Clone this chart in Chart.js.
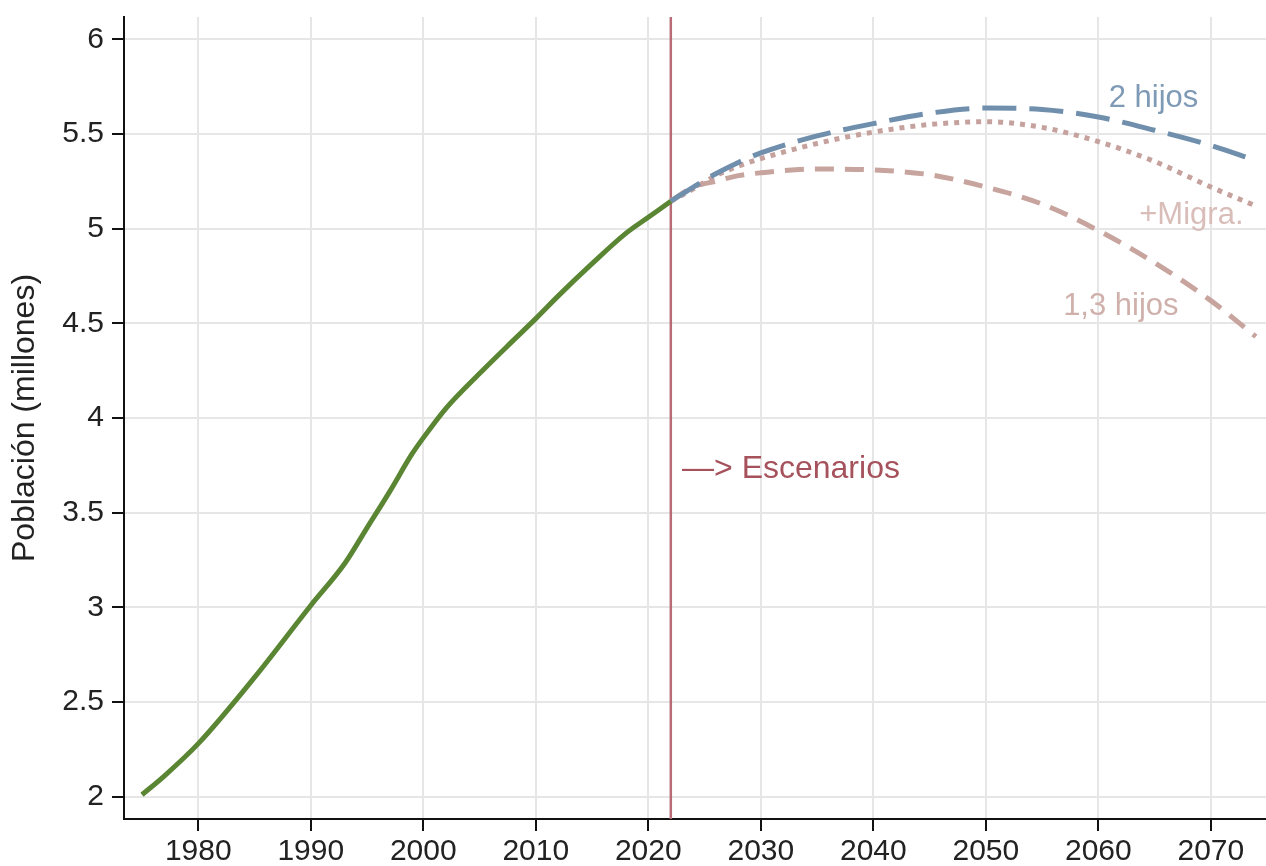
<!DOCTYPE html>
<html lang="es">
<head>
<meta charset="utf-8">
<title>Población (millones)</title>
<script src="https://cdn.jsdelivr.net/npm/chart.js@4.4.1/dist/chart.umd.min.js"></script>
<style>
  html, body { margin: 0; padding: 0; background: #fff; }
</style>
</head>
<body>
<canvas id="chart" width="1266" height="866"></canvas>
<script>
// serie observada
const histYears = [1975, 1977, 1980, 1985, 1990, 1993, 1995, 1997, 1999, 2000, 2002, 2005, 2008, 2010, 2012, 2015, 2018, 2020, 2022];
const histValues = [2.01, 2.11, 2.28, 2.63, 3.01, 3.23, 3.42, 3.61, 3.81, 3.895, 4.05, 4.235, 4.41, 4.525, 4.645, 4.815, 4.975, 5.06, 5.145];

// escenarios
const scenYears = [2022, 2024, 2026, 2028, 2030, 2035, 2040, 2045, 2050, 2055, 2060, 2065, 2070, 2074];
const twoKids   = [5.145, 5.22, 5.29, 5.35, 5.40, 5.49, 5.555, 5.61, 5.637, 5.63, 5.59, 5.52, 5.44, 5.36];
const migration = [5.145, 5.21, 5.28, 5.33, 5.37, 5.45, 5.51, 5.55, 5.565, 5.535, 5.46, 5.355, 5.22, 5.12];
const lowKids   = [5.145, 5.22, 5.25, 5.28, 5.295, 5.315, 5.31, 5.285, 5.22, 5.13, 4.99, 4.82, 4.62, 4.43];

const xTicks = [1980, 1990, 2000, 2010, 2020, 2030, 2040, 2050, 2060, 2070];
const yTicks = [2, 2.5, 3, 3.5, 4, 4.5, 5, 5.5, 6];
const scenarioStart = 2022;

const font = "'Liberation Sans', Arial, Helvetica, sans-serif";

const toPoints = (xs, ys) => xs.map((x, i) => ({ x: x, y: ys[i] }));

// textos sobre el grafico (en coordenadas de datos)
const notes = [
  { text: "2 hijos", x: 2064.9, y: 5.69, align: "center", color: "#7f9ab5", size: 31 },
  { text: "+Migra.", x: 2072.9, y: 5.07, align: "right", color: "#d8bdb9", size: 31 },
  { text: "1,3 hijos", x: 2062.0, y: 4.59, align: "center", color: "#cfb0ab", size: 31 },
  { text: "\u2014> Escenarios", x: 2023.0, y: 3.73, align: "left", color: "#a6525c", size: 32 }
];

const overlay = {
  id: "overlay",
  beforeDatasetsDraw(chart) {
    const { ctx, chartArea, scales } = chart;
    const px = scales.x.getPixelForValue(scenarioStart);
    ctx.save();
    ctx.strokeStyle = "#b96c76";
    ctx.lineWidth = 2.5;
    ctx.beginPath();
    ctx.moveTo(px, chartArea.top);
    ctx.lineTo(px, chartArea.bottom);
    ctx.stroke();
    ctx.restore();
  },
  afterDatasetsDraw(chart) {
    const { ctx, scales } = chart;
    ctx.save();
    ctx.textBaseline = "middle";
    notes.forEach(n => {
      ctx.font = n.size + "px " + font;
      ctx.fillStyle = n.color;
      ctx.textAlign = n.align;
      ctx.fillText(n.text, scales.x.getPixelForValue(n.x), scales.y.getPixelForValue(n.y));
    });
    ctx.restore();
  }
};

const gridOpts = {
  color: "#e6e6e6",
  lineWidth: 2,
  tickColor: "#111",
  tickLength: 12,
  tickWidth: 2
};

new Chart(document.getElementById("chart"), {
  type: "line",
  data: {
    datasets: [
      { label: "Observado", data: toPoints(histYears, histValues), borderColor: "#5a8633", borderWidth: 5 },
      { label: "2 hijos", data: toPoints(scenYears, twoKids), borderColor: "#6f8fad", borderWidth: 5, borderDash: [34, 13] },
      { label: "+Migra.", data: toPoints(scenYears, migration), borderColor: "#c6a29e", borderWidth: 5, borderDash: [5, 6] },
      { label: "1,3 hijos", data: toPoints(scenYears, lowKids), borderColor: "#c8a49f", borderWidth: 5, borderDash: [19, 11] }
    ]
  },
  options: {
    responsive: false,
    animation: false,
    devicePixelRatio: 1,
    layout: { padding: { top: 17, right: 0, bottom: 0, left: 0 } },
    elements: {
      point: { radius: 0 },
      line: { cubicInterpolationMode: "monotone", fill: false }
    },
    plugins: { legend: { display: false }, tooltip: { enabled: false } },
    scales: {
      x: {
        type: "linear",
        min: 1973.4,
        max: 2074.9,
        afterBuildTicks: s => { s.ticks = xTicks.map(v => ({ value: v })); },
        afterFit: s => { s.height = 47; s.paddingLeft = 0; s.paddingRight = 0; },
        grid: gridOpts,
        border: { color: "#111", width: 2 },
        ticks: { font: { family: font, size: 30 }, color: "#222", padding: 3, maxRotation: 0, autoSkip: false, callback: v => String(v) }
      },
      y: {
        min: 1.882,
        max: 6.118,
        afterBuildTicks: s => { s.ticks = yTicks.map(v => ({ value: v })); },
        afterFit: s => { s.width = 124; s.paddingTop = 0; s.paddingBottom = 0; },
        grid: gridOpts,
        border: { color: "#111", width: 2 },
        title: { display: true, text: "Población (millones)", font: { family: font, size: 32 }, color: "#222", padding: { top: 6, bottom: 0 } },
        ticks: { font: { family: font, size: 30 }, color: "#222", padding: 8, callback: v => String(v) }
      }
    }
  },
  plugins: [overlay]
});
</script>
</body>
</html>
